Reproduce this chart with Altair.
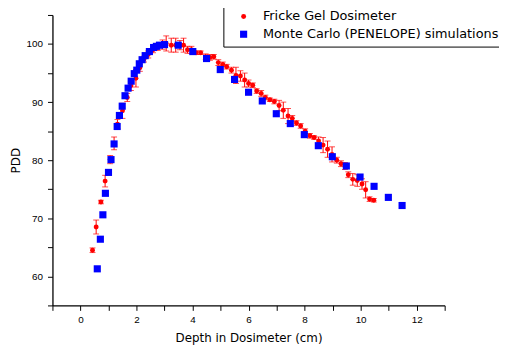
import altair as alt
import pandas as pd

# Fricke gel dosimeter (depth cm, PDD, error)
fricke_depth = [0.43, 0.56, 0.73, 0.88, 1.06, 1.20, 1.32, 1.50, 1.67, 1.80,
                1.98, 2.12, 2.27, 2.42, 2.59, 2.76, 2.93, 3.06, 3.24, 3.40,
                3.55, 3.68, 3.82, 3.96, 4.13, 4.29, 4.47, 4.62, 4.76, 4.92,
                5.08, 5.22, 5.39, 5.55, 5.71, 5.86, 6.00, 6.15, 6.29, 6.45,
                6.60, 6.76, 6.92, 7.09, 7.24, 7.41, 7.56, 7.71, 7.86, 8.02,
                8.19, 8.34, 8.50, 8.66, 8.82, 8.98, 9.15, 9.30, 9.44, 9.56,
                9.72, 9.88, 10.05, 10.18, 10.32, 10.47]
fricke_pdd = [64.5, 68.5, 72.8, 76.4, 80.1, 82.9, 86.2, 88.5, 90.8, 92.8,
              94.1, 95.9, 97.4, 98.2, 99.0, 99.5, 99.9, 100.1, 99.8, 99.8,
              99.8, 99.8, 99.0, 99.0, 98.5, 98.5, 97.8, 97.7, 97.8, 96.8,
              96.5, 96.1, 95.5, 94.6, 94.5, 93.8, 93.2, 92.9, 91.9, 91.5,
              90.8, 90.4, 90.1, 89.4, 88.6, 87.6, 87.2, 86.4, 85.9, 85.0,
              84.2, 83.9, 83.3, 82.6, 81.9, 81.0, 80.0, 79.4, 79.0, 77.5,
              76.7, 76.5, 75.9, 74.9, 73.3, 73.1]
fricke_err = [0.4, 1.2, 0.3, 1.0, 0.7, 1.1, 0.8, 1.3, 0.7, 0.8,
              1.5, 0.6, 0.5, 0.6, 0.5, 0.6, 0.8, 1.3, 1.2, 1.2,
              0.8, 1.2, 0.6, 0.6, 0.3, 0.3, 0.5, 0.5, 0.4, 0.5,
              0.4, 0.4, 0.5, 1.4, 0.9, 1.2, 0.6, 0.4, 0.4, 0.5,
              0.4, 0.3, 0.4, 0.9, 1.4, 1.3, 0.5, 0.4, 0.4, 0.4,
              0.4, 0.3, 0.7, 1.3, 1.4, 1.3, 0.5, 0.5, 0.6, 0.5,
              1.0, 1.0, 0.9, 1.4, 0.4, 0.3]

# Monte Carlo (PENELOPE) simulations
mc_depth = [0.60, 0.71, 0.80, 0.89, 1.00, 1.09, 1.20, 1.31, 1.39, 1.49,
            1.59, 1.70, 1.81, 1.92, 2.01, 2.10, 2.20, 2.31, 2.46, 2.61,
            2.71, 2.82, 3.00, 3.49, 4.01, 4.50, 4.99, 5.50, 6.00, 6.49,
            6.99, 7.49, 7.99, 8.49, 8.99, 9.49, 9.98, 10.48, 10.99, 11.48]
mc_pdd = [61.3, 66.4, 70.6, 74.3, 77.9, 80.1, 82.8, 85.8, 87.7, 89.3,
          91.1, 92.4, 93.6, 94.9, 95.5, 96.6, 97.3, 98.0, 98.7, 99.4,
          99.6, 99.8, 99.9, 99.8, 98.7, 97.5, 95.6, 93.9, 91.7, 90.2,
          88.0, 86.3, 84.4, 82.5, 80.6, 79.0, 77.1, 75.5, 73.6, 72.2]

series_names = ["Fricke Gel Dosimeter", "Monte Carlo (PENELOPE) simulations"]
series_colors = ["#ff0000", "#0000ff"]
series_shapes = ["circle", "square"]
series_sizes = [25, 52]
x_ticks = list(range(-1, 14))
y_ticks = list(range(55, 106, 5))

fr = pd.DataFrame({"depth": fricke_depth, "pdd": fricke_pdd, "err": fricke_err})
fr["lo"] = fr["pdd"] - fr["err"]
fr["hi"] = fr["pdd"] + fr["err"]
fr["series"] = series_names[0]
mc = pd.DataFrame({"depth": mc_depth, "pdd": mc_pdd})
mc["series"] = series_names[1]
pts = pd.concat([fr[["depth", "pdd", "series"]], mc], ignore_index=True)

xscale = alt.Scale(domain=[-1, 13], nice=False, zero=False)
yscale = alt.Scale(domain=[55, 105], nice=False, zero=False)

common_axis = dict(grid=False, domainColor="black", tickColor="black",
                   labelColor="black", titleColor="black", domainWidth=1.3,
                   tickWidth=1, tickSize=5, labelFont="Liberation Sans",
                   labelFontSize=10, titleFont="DejaVu Sans", titleFontSize=12,
                   titleFontWeight="normal")
xaxis = alt.Axis(values=x_ticks, labelExpr="datum.value % 2 == 0 ? datum.label : ''",
                 title="Depth in Dosimeter (cm)", labelPadding=4, titlePadding=9,
                 **common_axis)
yaxis = alt.Axis(values=y_ticks, labelExpr="datum.value % 10 == 0 ? datum.label : ''",
                 title="PDD", labelPadding=5, titlePadding=4, **common_axis)

def X():
    return alt.X("depth:Q", scale=xscale, axis=xaxis, title="Depth in Dosimeter (cm)")

def Y(field):
    return alt.Y(field, scale=yscale, axis=yaxis, title="PDD")

err_base = alt.Chart(fr)
rules = err_base.mark_rule(color="#ff0000", strokeWidth=1).encode(
    x=X(), y=Y("lo:Q"), y2="hi:Q")
caps_lo = err_base.mark_tick(color="#ff0000", orient="horizontal", size=6, thickness=1).encode(
    x=X(), y=Y("lo:Q"))
caps_hi = err_base.mark_tick(color="#ff0000", orient="horizontal", size=6, thickness=1).encode(
    x=X(), y=Y("hi:Q"))

legend = alt.Legend(title=None, orient="none", legendX=173, legendY=-10,
                    strokeColor="black", fillColor="white", padding=5,
                    symbolOffset=9, labelOffset=13, rowPadding=4,
                    labelFont="DejaVu Sans", labelFontSize=13, labelColor="black",
                    symbolStrokeWidth=0, labelLimit=400)

points = alt.Chart(pts).mark_point(filled=True, opacity=1, strokeWidth=0).encode(
    x=X(), y=Y("pdd:Q"),
    color=alt.Color("series:N", scale=alt.Scale(domain=series_names, range=series_colors), legend=legend),
    shape=alt.Shape("series:N", scale=alt.Scale(domain=series_names, range=series_shapes), legend=legend),
    size=alt.Size("series:N", scale=alt.Scale(domain=series_names, range=series_sizes), legend=legend),
    order=alt.Order("series:N"),
)

chart = alt.layer(rules, caps_lo, caps_hi, points).properties(
    width=397, height=294,
    autosize=alt.AutoSizeParams(type="none"),
    padding={"left": 45, "top": 5, "right": 55, "bottom": 38},
).configure_view(strokeWidth=0)

chart.save("out.html", embed_options={"renderer": "svg", "actions": False})
